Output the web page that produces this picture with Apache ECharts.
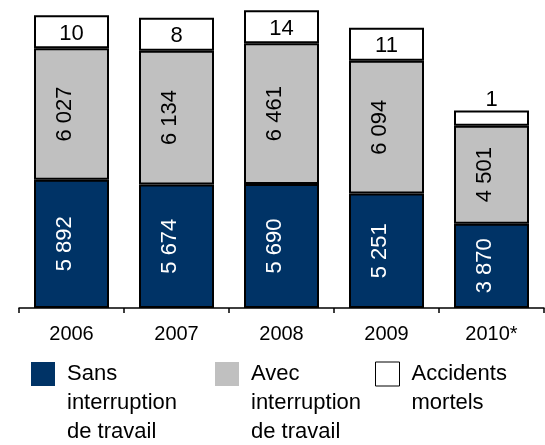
<!DOCTYPE html>
<html>
<head>
<meta charset="utf-8">
<script src="https://cdn.jsdelivr.net/npm/echarts@6/dist/echarts.min.js"></script>
<style>
  html, body { margin: 0; padding: 0; background: #fff; }
  #chart { width: 545px; height: 445px; }
</style>
</head>
<body>
<div id="chart"></div>
<script>
// données
const years = ['2006', '2007', '2008', '2009', '2010*'];
const sansInterruption = [5892, 5674, 5690, 5251, 3870];
const avecInterruption = [6027, 6134, 6461, 6094, 4501];
const accidentsMortels = [10, 8, 14, 11, 1];

const FONT = '"Liberation Sans", Arial, sans-serif';

function fmt(v) {
    return String(v).replace(/\B(?=(\d{3})+(?!\d))/g, ' ');
}

// la case "mortels" n'est pas à l'échelle : hauteur fixe dans le graphique d'origine
const mortelsData = accidentsMortels.map((v) => {
    if (v < 5) {
        return { value: 690, label: { position: 'top', distance: 0, offset: [0, 0] } };
    }
    return { value: 1515 };
});

const chart = echarts.init(document.getElementById('chart'));

const border = { borderColor: '#000', borderWidth: 2 };

// le texte de légende est centré sur l'icône : on ajoute des lignes vides au-dessus
// pour que la première ligne soit alignée sur le carré
function legendFor(name, left, lines) {
    const pad = '\n'.repeat(lines - 1);
    return {
        data: [name],
        left: left,
        top: 362 + 12 - (2 * lines - 1) * 14.5,
        padding: 0,
        icon: 'rect',
        itemWidth: 24,
        itemHeight: 24,
        selectedMode: false,
        formatter: (n) => pad + n.replace(/ (?=interruption|de |mortels)/g, '\n'),
        textStyle: {
            fontFamily: FONT,
            fontSize: 22,
            lineHeight: 29,
            color: '#000',
            padding: [0, 0, 0, 7]
        }
    };
}

const valueLabel = (color) => ({
    show: true,
    position: 'inside',
    rotate: 90,
    offset: [0, -7],
    color: color,
    fontFamily: FONT,
    fontSize: 22,
    formatter: (p) => fmt(p.value)
});

const option = {
    animation: false,
    grid: { left: 19, right: 1, top: 3, bottom: 137 },
    legend: [
        Object.assign(legendFor('Sans interruption de travail', 31, 3), { itemStyle: { borderWidth: 0 } }),
        Object.assign(legendFor('Avec interruption de travail', 215, 3), { itemStyle: { borderWidth: 0 } }),
        Object.assign(legendFor('Accidents mortels', 375, 2), { itemStyle: { borderColor: '#000', borderWidth: 1 } })
    ],
    xAxis: {
        type: 'category',
        data: years,
        axisLine: { lineStyle: { color: '#000', width: 1.5 } },
        axisTick: { show: true, length: 5, lineStyle: { color: '#000', width: 1.5 } },
        axisLabel: { color: '#000', fontFamily: FONT, fontSize: 20, margin: 16 }
    },
    yAxis: {
        type: 'value',
        min: 0,
        max: 14000,
        show: false,
        splitLine: { show: false }
    },
    series: [
        {
            name: 'Sans interruption de travail',
            type: 'bar',
            stack: 'total',
            barWidth: 75,
            data: sansInterruption,
            itemStyle: Object.assign({ color: '#003366' }, border),
            label: valueLabel('#fff')
        },
        {
            name: 'Avec interruption de travail',
            type: 'bar',
            stack: 'total',
            barWidth: 75,
            data: avecInterruption,
            itemStyle: Object.assign({ color: '#c0c0c0' }, border),
            label: valueLabel('#000')
        },
        {
            name: 'Accidents mortels',
            type: 'bar',
            stack: 'total',
            barWidth: 75,
            data: mortelsData,
            itemStyle: Object.assign({ color: '#fff' }, border),
            label: {
                show: true,
                position: 'inside',
                offset: [0, 2],
                color: '#000',
                fontFamily: FONT,
                fontSize: 22,
                formatter: (p) => String(accidentsMortels[p.dataIndex])
            }
        }
    ]
};

chart.setOption(option);
</script>
</body>
</html>
